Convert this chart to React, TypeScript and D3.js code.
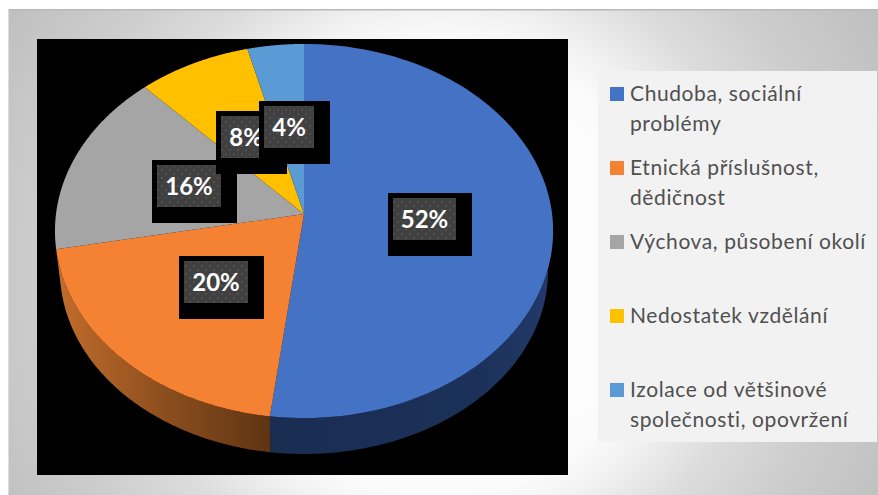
import React from "react";
import * as d3 from "d3";

const categories = ["Chudoba, sociální problémy", "Etnická příslušnost, dědičnost", "Výchova, působení okolí", "Nedostatek vzdělání", "Izolace od většinové společnosti, opovržení"];
const values = [52, 20, 16, 8, 4];
const colors = ["#4472c4", "#f58233", "#a5a5a5", "#ffc000", "#5b9bd5"];
const legendLines = [["Chudoba, sociální", "problémy"], ["Etnická příslušnost,", "dědičnost"], ["Výchova, působení okolí"], ["Nedostatek vzdělání"], ["Izolace od většinové", "společnosti, opovržení"]];
const legendTop = [87, 161, 235, 309, 383];
const labelBoxes = [[388, 193], [179, 256], [152, 160], [216, 111], [259, 101]];
const labelWidths = [63, 64, 64, 50, 50];

const W = 878, H = 495;
const cx = 304, cy = 214;
const a = 248, b = 185.5, k = -0.0909;
const wallScale = 0.98, wallDrop = 40;
const FONT = "Lato, 'Open Sans', sans-serif";

const arcs = d3.pie<number>().sort(null)(values);
const project = (t: number, s = 1, dy = 0): [number, number] => {
  const X = Math.sin(t), Y = -Math.cos(t), d = 1 + k * Y;
  return [cx + (s * a * X) / d, cy + (s * b * Y) / d + dy];
};
const line = d3.line();
const arcPts = (t0: number, t1: number, s = 1, dy = 0) =>
  d3.range(0, 121).map((i) => project(t0 + ((t1 - t0) * i) / 120, s, dy));

const wallPath = (t0: number, t1: number) => {
  const top = arcPts(t0, t1);
  const bot = arcPts(t0, t1, wallScale, wallDrop).reverse();
  return line([...top, ...bot])! + "Z";
};
const slicePath = (t0: number, t1: number) => line([[cx, cy], ...arcPts(t0, t1)])! + "Z";

export default function App() {
  return (
    <svg width={W} height={H} style={{ position: "absolute", left: 0, top: 0, display: "block", background: "#fff" }}>
      <defs>
        <radialGradient id="bg" gradientUnits="userSpaceOnUse" cx={440} cy={270} r={500}>
          <stop offset="0" stopColor="#ffffff" />
          <stop offset="0.45" stopColor="#fbfbfb" />
          <stop offset="0.52" stopColor="#f2f2f2" />
          <stop offset="0.65" stopColor="#dcdcdc" />
          <stop offset="0.8" stopColor="#cdcdcd" />
          <stop offset="1" stopColor="#c0c0c0" />
        </radialGradient>
        <linearGradient id="wall0" gradientUnits="userSpaceOnUse" x1={271} x2={548} y1={0} y2={0}>
          <stop offset="0" stopColor="#1a2d53" />
          <stop offset="0.75" stopColor="#1c3159" />
          <stop offset="1" stopColor="#22396a" />
        </linearGradient>
        <linearGradient id="wall1" gradientUnits="userSpaceOnUse" x1={60} x2={271} y1={0} y2={0}>
          <stop offset="0" stopColor="#c06c2b" />
          <stop offset="0.5" stopColor="#8c4e1e" />
          <stop offset="1" stopColor="#5f3413" />
        </linearGradient>
        <pattern id="dots" width={8} height={8} patternUnits="userSpaceOnUse">
          <rect width={8} height={8} fill="#404040" />
          <rect x={1} y={1} width={2} height={2} fill="#4f4f4f" />
          <rect x={5} y={5} width={2} height={2} fill="#4f4f4f" />
        </pattern>
      </defs>
      <rect x={8} y={9} width={870} height={486} fill="url(#bg)" />
      <rect x={8} y={9} width={870} height={1.5} fill="#b8b8b8" />
      <rect x={8} y={9} width={1} height={486} fill="#dcdcdc" />
      <rect x={37} y={39} width={531} height={436} fill="#000" />
      <g>
        {arcs.slice(0, 2).map((d, i) => (
          <path key={i} d={wallPath(d.startAngle, d.endAngle)} fill={`url(#wall${i})`} />
        ))}
        {arcs.map((d, i) => (
          <path key={i} d={slicePath(d.startAngle, d.endAngle)} fill={colors[i]} />
        ))}
      </g>
      {arcs.map((d, i) => {
        const [x, y] = labelBoxes[i];
        const w = labelWidths[i];
        return (
          <g key={i}>
            <rect x={x} y={y} width={w + 21} height={63} fill="#000" />
            <rect x={x + 5} y={y + 5} width={w} height={42} fill="url(#dots)" />
            <text x={x + 5 + w / 2} y={y + 35} textAnchor="middle" fontFamily={FONT} fontWeight={700} fontSize={24} fill="#fff">
              {d.data}%
            </text>
          </g>
        );
      })}
      <rect x={598} y={71} width={279} height={371} fill="#f2f2f2" />
      {categories.map((c, i) => (
        <g key={c}>
          <rect x={610} y={legendTop[i]} width={14} height={14} fill={colors[i]} />
          {legendLines[i].map((l, j) => (
            <text key={j} x={630} y={legendTop[i] + 14 + j * 30} fontFamily={FONT} fontSize={21} letterSpacing={0.6} fill="#505050">
              {l}
            </text>
          ))}
        </g>
      ))}
    </svg>
  );
}
